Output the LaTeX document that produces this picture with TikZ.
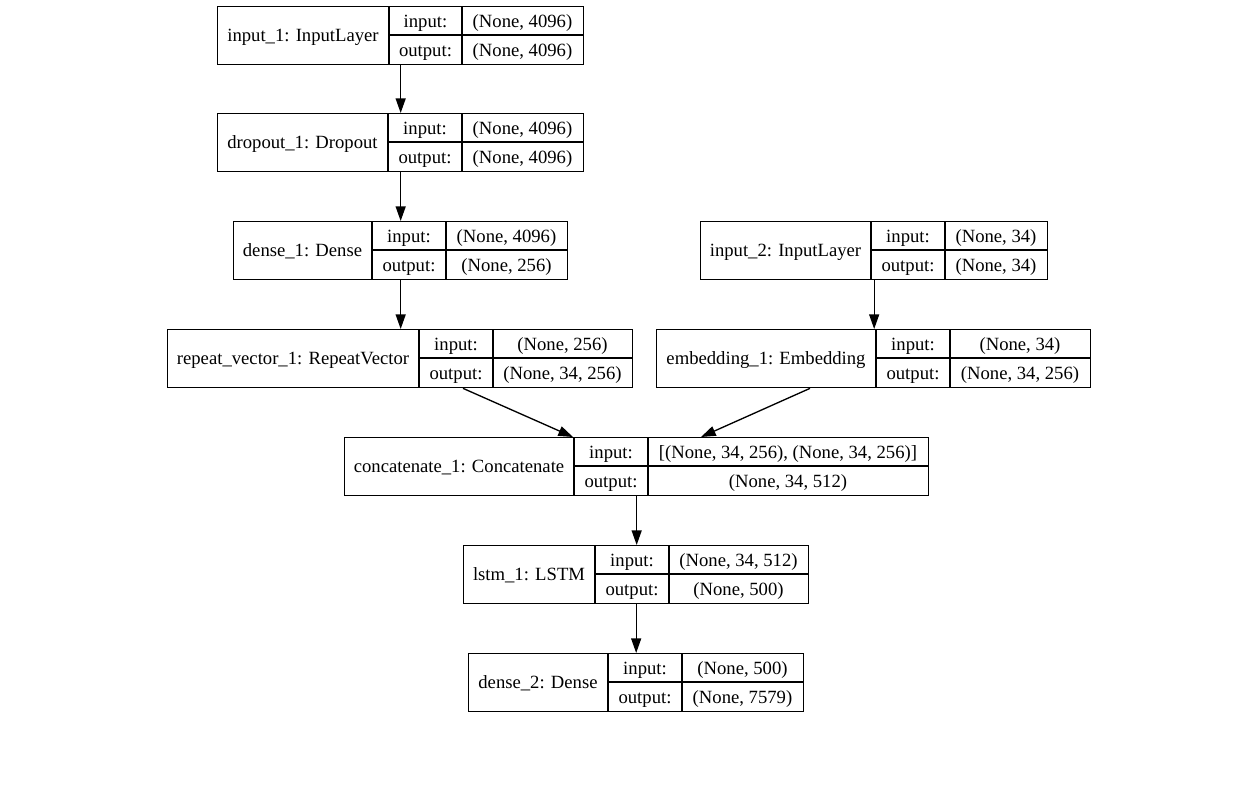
\documentclass[tikz,border=0pt]{standalone}
\usepackage{fontspec}
\setmainfont{Liberation Serif}
\usetikzlibrary{arrows.meta,calc}
\tikzset{
  box/.style={draw, line width=1pt, inner sep=0pt, minimum height=43.5pt, fill=white},
  cell/.style={line width=1pt},
  txt/.style={inner sep=0pt, anchor=base, font=\fontsize{14pt}{16pt}\selectfont},
  arr/.style={line width=1pt, -{Triangle[length=11pt,width=7.5pt]}}
}
\newcommand{\layerbox}[9]{%
  \node[box, minimum width={(#5-#2)*0.75pt}, anchor=north west] (#1) at (#2,#6) {};
  \draw[cell] (#3,#6) -- (#3,{#6+58});
  \draw[cell] (#4,#6) -- (#4,{#6+58});
  \draw[cell] (#3,{#6+29}) -- (#5,{#6+29});
  \node[txt] (#1-t) at ({(#2+#3)/2},{#6+35.5}) {#7};
  \node[txt] (#1-il) at ({(#3+#4)/2},{#6+21}) {input:};
  \node[txt] (#1-ol) at ({(#3+#4)/2},{#6+50}) {output:};
  \node[txt] (#1-iv) at ({(#4+#5)/2},{#6+21}) {#8};
  \node[txt] (#1-ov) at ({(#4+#5)/2},{#6+50}) {#9};
}
\begin{document}
\begin{tikzpicture}[x=0.75pt,y=-0.75pt]
\useasboundingbox[fill=white] (0,0) rectangle (1248,794);
\layerbox{in1}{217}{389}{462}{583}{6}{input\_1: InputLayer}{(None, 4096)}{(None, 4096)}
\layerbox{drop1}{217}{388}{462}{583}{113}{dropout\_1: Dropout}{(None, 4096)}{(None, 4096)}
\layerbox{dense1}{233}{372}{446}{567}{221}{dense\_1: Dense}{(None, 4096)}{(None, 256)}
\layerbox{rep1}{167}{419}{493}{632}{329}{repeat\_vector\_1: RepeatVector}{(None, 256)}{(None, 34, 256)}
\layerbox{in2}{700}{871}{945}{1047}{221}{input\_2: InputLayer}{(None, 34)}{(None, 34)}
\layerbox{emb1}{656}{876}{950}{1090}{329}{embedding\_1: Embedding}{(None, 34)}{(None, 34, 256)}
\layerbox{cat1}{344}{574}{648}{928}{437}{concatenate\_1: Concatenate}{[(None, 34, 256), (None, 34, 256)]}{(None, 34, 512)}
\layerbox{lstm1}{463}{595}{669}{808}{545}{lstm\_1: LSTM}{(None, 34, 512)}{(None, 500)}
\layerbox{dense2}{468}{608}{682}{803}{653}{dense\_2: Dense}{(None, 500)}{(None, 7579)}
\draw[arr] (in1) -- (drop1);
\draw[arr] (drop1) -- (dense1);
\draw[arr] (dense1.south) -- (dense1.south |- rep1.north);
\draw[arr] (in2.south) -- (in2.south |- emb1.north);
\draw[arr] ($(rep1.south west)+(296,0)$) -- ($(cat1.north west)+(229,0)$);
\draw[arr] ($(emb1.south west)+(154,0)$) -- ($(cat1.north west)+(357,0)$);
\draw[arr] (cat1.south) -- (cat1.south |- lstm1.north);
\draw[arr] (lstm1.south) -- (lstm1.south |- dense2.north);
\end{tikzpicture}
\end{document}
